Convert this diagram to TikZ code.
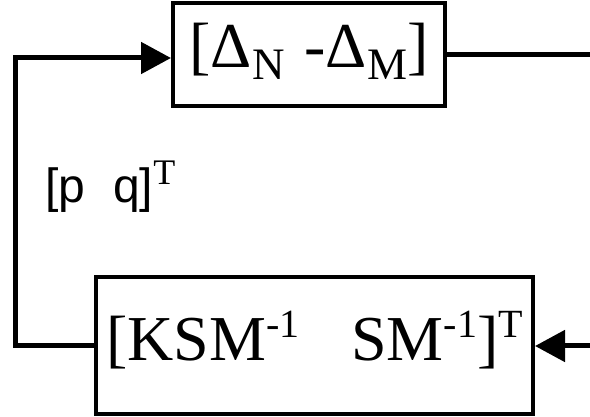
\documentclass[tikz,border=0pt]{standalone}
\usepackage{fontspec}
\setmainfont{Liberation Serif}
\setsansfont{Liberation Sans}
\usepackage{tikz}
\usetikzlibrary{arrows.meta, positioning}
\newcommand{\hiidx}[1]{\raisebox{23pt}{\fontsize{40}{40}\selectfont #1}}
\newcommand{\loidx}[1]{\raisebox{-12pt}{\fontsize{45}{45}\selectfont #1}}
\tikzstyle{block} = [draw, line width=4pt, inner sep=0pt, align=center, font=\fontsize{64}{64}\selectfont]
\tikzstyle{flow} = [line width=5pt, line join=miter]
\tikzstyle{arrow} = [flow, -{Triangle[length=30pt, width=31pt]}]

\begin{document}
\begin{tikzpicture}[x=1pt, y=-1pt]
            \useasboundingbox (0,0) rectangle (590,417);
            % upper block
            \node[block, minimum width=272pt, minimum height=103pt,
                  text height=40pt, text depth=13pt] (delta) at (309,54.5)
                {[Δ\loidx{N}\hspace{20pt}-Δ\loidx{M}]};
            % lower block
            \node[block, minimum width=437pt, minimum height=137pt,
                  text height=42pt, text depth=13pt] (ksm) at (314.5,345.5)
                {[KSM\hiidx{-1}\hspace{52pt}SM\hiidx{-1}]\hiidx{T}};

            % feedback loop
            \coordinate (loop) at (15,200);
            \draw[arrow] (ksm.west) -- (ksm.west -| loop) -- ([yshift=-3.5pt]delta.west -| loop)
                -- ([yshift=-3.5pt]delta.west);
            \node[anchor=base west, inner sep=0pt, font=\sffamily\fontsize{48}{48}\selectfont]
                (pq) at (45,203) {[p\hspace{28pt}q]\raisebox{18pt}{\rmfamily\fontsize{36}{36}\selectfont T}};

            % open ends on the right
            \coordinate (outR) at (590,55);
            \coordinate (inR) at (590,346);
            \draw[flow] (delta.east) -- (delta.east -| outR);
            \draw[arrow] (inR) -- (ksm.east |- inR);
\end{tikzpicture}
\end{document}
